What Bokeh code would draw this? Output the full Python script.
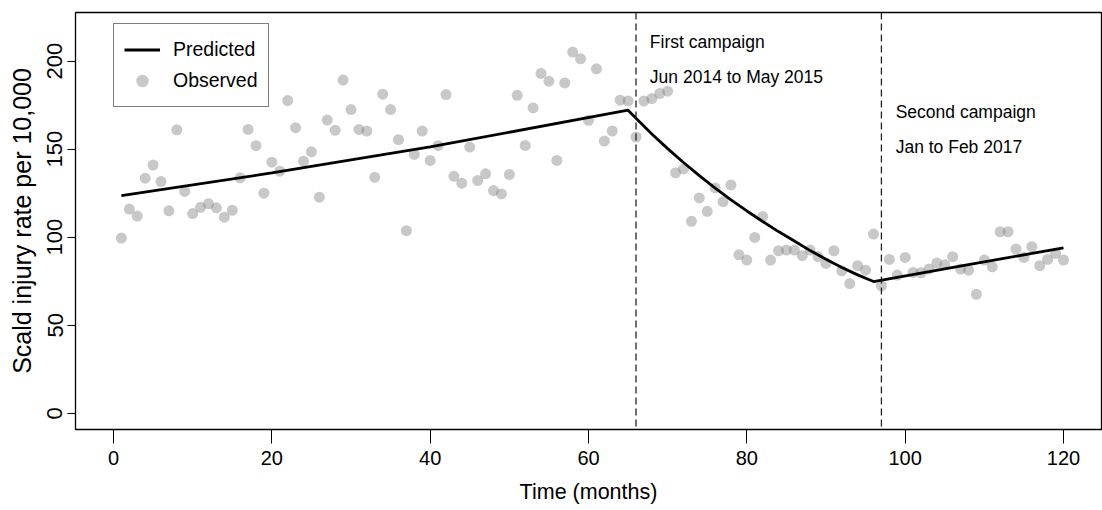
import math
from bokeh.plotting import figure
from bokeh.models import Span, Label, Legend, LegendItem, FixedTicker, Range1d
from bokeh.embed import file_html
from bokeh.resources import INLINE

# ---- data ----
months = list(range(1, 121))
observed = [
    99.5, 116, 112, 133.5, 141, 131.6, 115, 161, 126, 113.4,
    117, 119, 116.7, 111.4, 115.3, 133.7, 161.2, 152, 125, 142.6,
    137.5, 177.6, 162.2, 143.2, 148.5, 122.7, 166.5, 160.7, 189.2, 172.5,
    161.2, 160.3, 134, 181.2, 172.5, 155.4, 103.7, 147, 160.3, 143.6,
    152, 181, 134.6, 130.7, 151.2, 132.2, 136, 126.5, 124.6, 135.6,
    180.6, 152.1, 173.4, 193, 188.6, 143.6, 187.6, 205.1, 201.3, 166.4,
    195.6, 154.6, 160.3, 177.8, 177.4, 156.9, 177.4, 178.7, 181.6, 182.9,
    136.6, 138.8, 109, 122.3, 114.7, 128, 120.2, 129.7, 90, 87,
    99.9, 111.7, 87, 92.3, 92.7, 92.7, 89.5, 92.7, 89, 85.1,
    92.3, 80.9, 73.7, 83.8, 81.3, 101.8, 72.4, 87.4, 78.5, 88.5,
    80, 79.8, 81.9, 85.3, 84.3, 88.9, 81.9, 81.3, 67.6, 87,
    83.2, 103.1, 103.1, 93.3, 88.5, 94.6, 83.8, 87.4, 90.8, 87,
]
pred_months = [1, 20, 40, 65, 66, 68, 70, 72, 74, 76, 78, 80, 82, 84, 86,
               88, 90, 92, 94, 96, 108, 120]
pred_values = [123.6, 136.5, 151.3, 172.1, 167.5, 158.6, 150.3, 142.4, 135.0,
               127.9, 121.2, 114.9, 108.9, 103.2, 97.8, 92.4, 87.5, 82.8,
               78.6, 74.8, 84.4, 94.0]
x_ticks = [0, 20, 40, 60, 80, 100, 120]
y_ticks = [0, 50, 100, 150, 200]
campaign_starts = [66, 97]
campaign_titles = ["First campaign", "Second campaign"]
campaign_periods = ["Jun 2014 to May 2015", "Jan to Feb 2017"]

FONT = "Liberation Sans"

p = figure(width=1102, height=510,
           x_range=Range1d(-4.8, 124.8), y_range=Range1d(-9.2, 227.6),
           output_backend="svg", toolbar_location=None,
           min_border_left=75, min_border_right=1,
           min_border_top=12, min_border_bottom=81)

p.background_fill_color = "white"
p.border_fill_color = "white"
p.outline_line_color = "black"
p.outline_line_width = 1.3
p.xgrid.visible = False
p.ygrid.visible = False

# x axis
xa = p.xaxis[0]
xa.ticker = FixedTicker(ticks=x_ticks)
xa.axis_label = "Time (months)"
xa.axis_label_text_font = FONT
xa.axis_label_text_font_size = "21.5px"
xa.axis_label_text_font_style = "normal"
xa.axis_label_text_color = "black"
xa.axis_label_standoff = 12
xa.major_label_text_font = FONT
xa.major_label_text_font_size = "20px"
xa.major_label_text_color = "black"
xa.major_label_standoff = 7
xa.major_tick_out = 14
xa.major_tick_in = 0
xa.minor_tick_out = 0
xa.minor_tick_in = 0
xa.axis_line_color = None
xa.major_tick_line_color = "black"

# y axis
ya = p.yaxis[0]
ya.ticker = FixedTicker(ticks=y_ticks)
ya.axis_label = "Scald injury rate per 10,000"
ya.axis_label_text_font = FONT
ya.axis_label_text_font_size = "25px"
ya.axis_label_text_font_style = "normal"
ya.axis_label_text_color = "black"
ya.axis_label_standoff = 9
ya.major_label_text_font = FONT
ya.major_label_text_font_size = "22px"
ya.major_label_text_color = "black"
ya.major_label_orientation = "parallel"
ya.major_label_standoff = 5
ya.major_tick_out = 8
ya.major_tick_in = 0
ya.minor_tick_out = 0
ya.minor_tick_in = 0
ya.axis_line_color = None
ya.major_tick_line_color = "black"

# observed points
pts = p.scatter(months, observed, size=11, fill_color="#808080",
                fill_alpha=0.43, line_color=None)

# predicted line
ln = p.line(pred_months, pred_values, line_color="black", line_width=2.8)

# campaign starts
for cs in campaign_starts:
    p.add_layout(Span(location=cs, dimension="height", line_color="#222222",
                      line_dash="7 4", line_width=1.3))

# campaign annotations
label_offsets = [(1.75, 211, 191), (1.8, 171, 151)]
for cs, t1, t2, (dx, y1, y2) in zip(campaign_starts, campaign_titles,
                                    campaign_periods, label_offsets):
    for txt, yy in ((t1, y1), (t2, y2)):
        p.add_layout(Label(x=cs + dx, y=yy, text=txt, text_font=FONT,
                           text_font_size="17.5px", text_color="black",
                           text_align="left", text_baseline="middle"))

legend = Legend(items=[LegendItem(label="Predicted", renderers=[ln]),
                       LegendItem(label="Observed", renderers=[pts])],
                location=(38, 322), padding=10, spacing=0, margin=0,
                label_height=31, glyph_height=31, glyph_width=36,
                label_standoff=13, label_text_font=FONT,
                label_text_font_size="19.5px", label_text_color="black",
                border_line_color="black", border_line_width=1.3,
                background_fill_color="white", background_fill_alpha=1.0)
p.add_layout(legend)

open("out.html", "w").write(file_html(p, INLINE))
